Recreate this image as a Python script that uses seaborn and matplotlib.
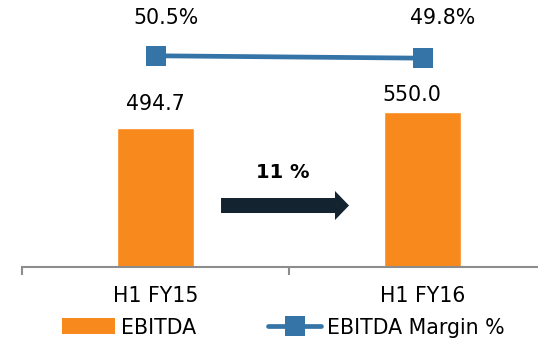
import numpy as np
import matplotlib
matplotlib.use("Agg")
import matplotlib.pyplot as plt
from matplotlib.patches import Patch
from matplotlib.lines import Line2D
import seaborn as sns

# Half-year EBITDA (Rs. crore) and EBITDA margin
periods = ["H1 FY15", "H1 FY16"]
ebitda = [494.7, 550.0]
margin = [50.5, 49.8]
ebitda_labels = ["494.7", "550.0"]
margin_labels = ["50.5%", "49.8%"]
growth_label = "11 %"
legend_labels = ["EBITDA", "EBITDA Margin %"]

ORANGE = "#F8891C"
BLUE = "#3474A7"
NAVY = "#132430"
GREY = "#8C8C8C"

sns.set_style("white")
plt.rcParams["font.family"] = ["DejaVu Sans"]
plt.rcParams["text.color"] = "black"
plt.rcParams["xtick.color"] = "black"
plt.rcParams["xtick.labelcolor"] = "black"
FS = 14.8

W, H = 538, 342
fig = plt.figure(figsize=(W / 100, H / 100), dpi=100)
ax = fig.add_axes([22 / W, (H - 267) / H, 534 / W, 267 / H])

sns.barplot(x=periods, y=ebitda, color=ORANGE, saturation=1, width=0.29, ax=ax)
ax.set_xlim(-0.5, 1.5)
ax.set_ylim(0, 948)

ax2 = ax.twinx()
x_pos = np.arange(len(periods))
sns.lineplot(x=x_pos, y=margin, color=BLUE, linewidth=3.4, marker="s",
             markersize=14.4, markeredgewidth=0, ax=ax2)
ax2.set_ylim(-11.6, 66.9)
ax.set_xlim(-0.5, 1.5)

# axes styling: only a grey baseline with boundary tick marks
for a in (ax, ax2):
    for side in ("top", "right", "left"):
        a.spines[side].set_visible(False)
    a.set_yticks([])
    a.set_ylabel("")
ax2.spines["bottom"].set_visible(False)
ax.spines["bottom"].set_color(GREY)
ax.spines["bottom"].set_linewidth(1.5)
ax.set_xticks(x_pos)
ax.set_xticklabels(periods, fontsize=FS, color="black")
ax.set_xticks([-0.5, 0.5, 1.5], minor=True)
ax.tick_params(axis="x", which="major", bottom=True, length=0, pad=14)
ax.tick_params(axis="x", which="minor", bottom=True, length=6, width=1.5,
               color=GREY, direction="out")
ax.set_xlabel("")

# value labels on bars
bar_offsets = [(0, 12.7), (-7.6, 8.2)]
for i, (v, lab) in enumerate(zip(ebitda, ebitda_labels)):
    ax.annotate(lab, xy=(i, v), xytext=bar_offsets[i], textcoords="offset points",
                ha="center", va="baseline", fontsize=FS, color="black")

# margin labels above the line markers
margin_offsets = [(7.4, 22.8), (14.4, 24.5)]
for i, (v, lab) in enumerate(zip(margin, margin_labels)):
    ax2.annotate(lab, xy=(i, v), xytext=margin_offsets[i], textcoords="offset points",
                 ha="center", va="baseline", fontsize=FS, color="black")

# growth arrow between the two bars
ax.annotate("", xy=(0.6124, 0.2303), xytext=(0.3727, 0.2303),
            xycoords="axes fraction", textcoords="axes fraction",
            arrowprops=dict(arrowstyle="simple,head_length=1.01,head_width=2.09,tail_width=1.08",
                            mutation_scale=10, color=NAVY, shrinkA=0, shrinkB=0, lw=0))
ax.text(0.4878, 0.354, growth_label, transform=ax.transAxes, ha="center",
        va="center", fontsize=14, fontweight="bold", color="black")

handles = [Patch(facecolor=ORANGE, edgecolor="none"),
           Line2D([], [], color=BLUE, lw=3.4, marker="s", markersize=14.4,
                  markeredgewidth=0, solid_capstyle="round")]
fig.legend(handles, legend_labels, loc="center left",
           bbox_to_anchor=(61.7 / W, 14.5 / H), ncol=2, frameon=False,
           fontsize=FS, handlelength=2.6, handleheight=0.8, handletextpad=0.28,
           columnspacing=3.5, borderpad=0, borderaxespad=0, labelcolor="black")

fig.savefig("out.png", dpi=100)
